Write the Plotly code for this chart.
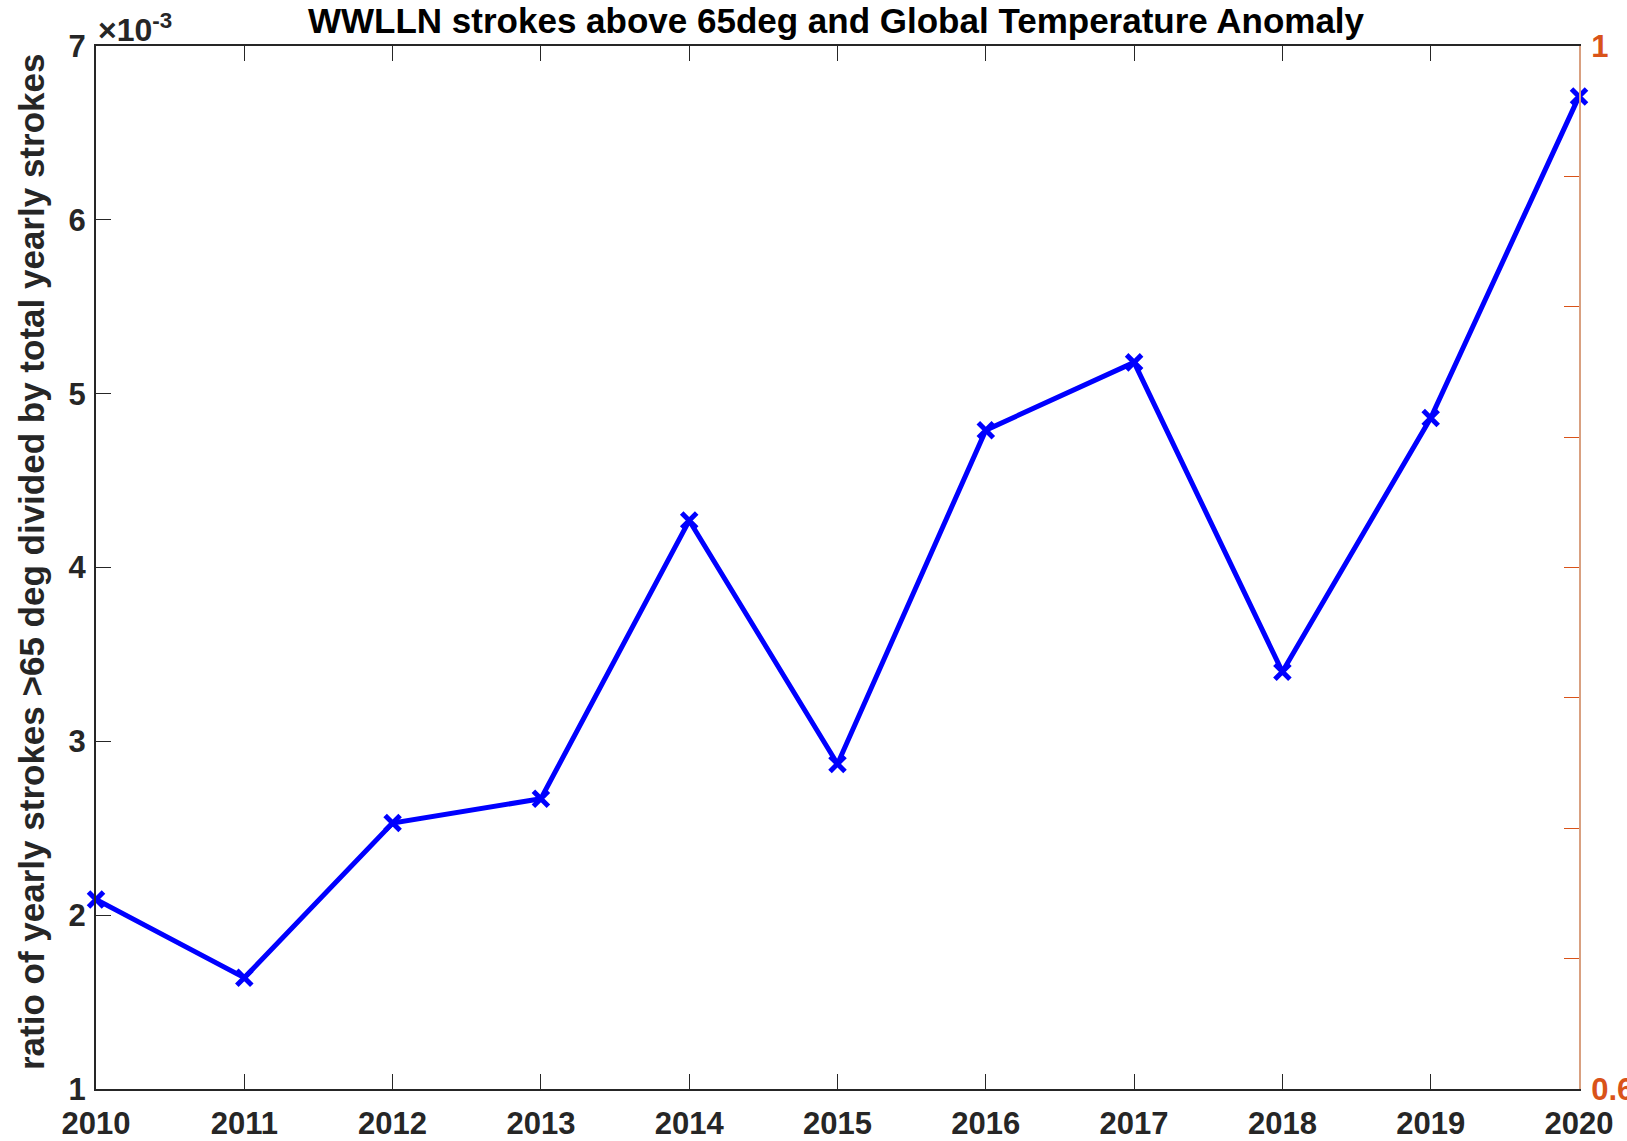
import plotly.graph_objects as go

years = [2010, 2011, 2012, 2013, 2014, 2015, 2016, 2017, 2018, 2019, 2020]
# ratio of yearly strokes >65 deg divided by total yearly strokes, in units of 1e-3
ratio_e3 = [2.09, 1.64, 2.53, 2.67, 4.27, 2.87, 4.79, 5.18, 3.40, 4.86, 6.71]

y_ticks = [1, 2, 3, 4, 5, 6, 7]
y_ticktext = ["1", "2", "3", "4", "5", "6", "7"]
y2_ticks = [0.6, 1.0]
y2_ticktext = ["0.6", "1"]

W, H = 1627, 1141
L, R, T, B = 96, 48, 46, 52
pw = W - L - R
ph = H - T - B

dark = "#262626"
orange = "#D95319"
font_family = "Liberation Sans, Arial, sans-serif"

fig = go.Figure()
fig.add_trace(go.Scatter(
    x=years, y=ratio_e3, mode="lines+markers",
    line=dict(color="#0000FF", width=5),
    marker=dict(symbol="x-thin", size=15, color="#0000FF",
                line=dict(color="#0000FF", width=5)),
    showlegend=False, cliponaxis=False,
))
# invisible trace to activate the right axis
fig.add_trace(go.Scatter(x=[years[0]], y=[y2_ticks[0]], yaxis="y2", mode="markers",
                         marker=dict(opacity=0), showlegend=False, hoverinfo="skip"))

fig.update_layout(
    width=W, height=H,
    margin=dict(l=L, r=R, t=T, b=B, pad=0, autoexpand=False),
    paper_bgcolor="white", plot_bgcolor="white",
    font=dict(family=font_family, color=dark, size=31, weight="bold"),
    xaxis=dict(
        range=[2010, 2020], tickvals=years, ticktext=[str(y) for y in years],
        ticks="inside", ticklen=15, tickwidth=1, tickcolor=dark,
        showline=True, linecolor=dark, linewidth=2, mirror="ticks",
        showgrid=False, zeroline=False, automargin=False,
        tickfont=dict(size=31, color=dark, family=font_family, weight="bold"),
        ticklabelstandoff=6,
    ),
    yaxis=dict(
        range=[1, 7], tickvals=y_ticks, ticktext=y_ticktext,
        ticks="inside", ticklen=15, tickwidth=1, tickcolor=dark,
        showline=True, linecolor=dark, linewidth=2, mirror=False,
        showgrid=False, zeroline=False, automargin=False,
        tickfont=dict(size=31, color=dark, family=font_family, weight="bold"),
        ticklabelstandoff=2,
    ),
    yaxis2=dict(
        range=[0.6, 1.0], tickvals=y2_ticks, ticktext=y2_ticktext,
        overlaying="y", side="right",
        ticks="inside", ticklen=15, tickwidth=1, tickcolor=orange,
        minor=dict(ticks="inside", ticklen=15, tickwidth=1, tickcolor=orange,
                   tick0=0.6, dtick=0.05, showgrid=False),
        showline=True, linecolor="#d9a080", linewidth=2,
        showgrid=False, zeroline=False, automargin=False,
        tickfont=dict(size=31, color=orange, family=font_family, weight="bold"),
        ticklabelstandoff=4,
    ),
)

fig.add_annotation(
    text="WWLLN strokes above 65deg and Global Temperature Anomaly",
    xref="paper", yref="paper", x=(836 - L) / pw, y=1 + (T - 20) / ph,
    xanchor="center", yanchor="middle", showarrow=False,
    font=dict(size=35, color="black", family=font_family, weight="bold"),
)
fig.add_annotation(
    text="ratio of yearly strokes >65 deg divided by total yearly strokes",
    xref="paper", yref="paper", x=(31 - L) / pw, y=(H - B - 562) / ph,
    xanchor="center", yanchor="middle", showarrow=False, textangle=-90,
    font=dict(size=35, color=dark, family=font_family, weight="bold"),
)
fig.add_annotation(
    text="×10<sup>-3</sup>",
    xref="paper", yref="paper", x=(96 - L) / pw, y=1 + (T - 28) / ph,
    xanchor="left", yanchor="middle", showarrow=False,
    font=dict(size=32, color=dark, family=font_family, weight="bold"),
)

fig.write_html("out.html")
